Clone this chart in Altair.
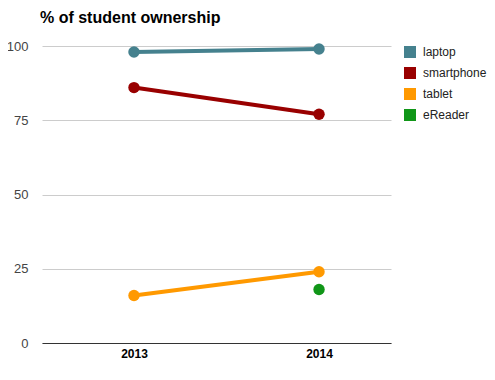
import altair as alt
import pandas as pd

years = ["2013", "2014"]
laptop = [98, 99]
smartphone = [86, 77]
tablet = [16, 24]
ereader_year = ["2014"]
ereader = [18]

series = ["laptop", "smartphone", "tablet", "eReader"]
colors = ["#45818e", "#990000", "#ff9900", "#109618"]

rows = []
for name, vals in [("laptop", laptop), ("smartphone", smartphone), ("tablet", tablet)]:
    for y, v in zip(years, vals):
        rows.append({"year": y, "value": v, "device": name})
for y, v in zip(ereader_year, ereader):
    rows.append({"year": y, "value": v, "device": "eReader"})
df = pd.DataFrame(rows)

x = alt.X("year:O", title=None,
          scale=alt.Scale(type="point", domain=years, padding=0.443, align=0.561),
          axis=alt.Axis(labelAngle=0, ticks=False, grid=False, domain=True,
                        domainColor="#333333", labelFontWeight="bold",
                        labelColor="#000000", labelFontSize=12, labelFont="Liberation Sans",
                        labelPadding=5))
y = alt.Y("value:Q", title=None,
          scale=alt.Scale(domain=[0, 100], nice=False),
          axis=alt.Axis(values=[0, 25, 50, 75, 100], ticks=False, domain=False,
                        gridColor="#cccccc", labelColor="#444444", labelFontSize=13,
                        labelFont="Liberation Sans", labelPadding=14))
color = alt.Color("device:N", title=None,
                  scale=alt.Scale(domain=series, range=colors),
                  legend=alt.Legend(orient="none", legendX=362, legendY=0,
                                    symbolType="square", symbolSize=144,
                                    symbolStrokeWidth=0, symbolOpacity=1,
                                    labelFontSize=12, labelFont="Liberation Sans",
                                    labelColor="#222222", rowPadding=9,
                                    labelOffset=7))

base = alt.Chart(df)
lines = base.mark_line(strokeWidth=4).encode(x=x, y=y, color=color, detail="device:N")
points = base.mark_circle(size=130, opacity=1).encode(x=x, y=y, color=color)

chart = alt.layer(lines, points).properties(
    width=349, height=297,
    title=alt.TitleParams("% of student ownership", anchor="start", fontSize=16,
                          font="Liberation Sans", fontWeight="bold", color="#000000",
                          frame="group", dx=-2, offset=14),
    autosize=alt.AutoSizeParams(type="none"),
    padding={"left": 34, "top": 38, "right": 96, "bottom": 29},
).configure_view(stroke=None)

chart.save("out.html", embed_options={"renderer": "svg", "actions": False})
